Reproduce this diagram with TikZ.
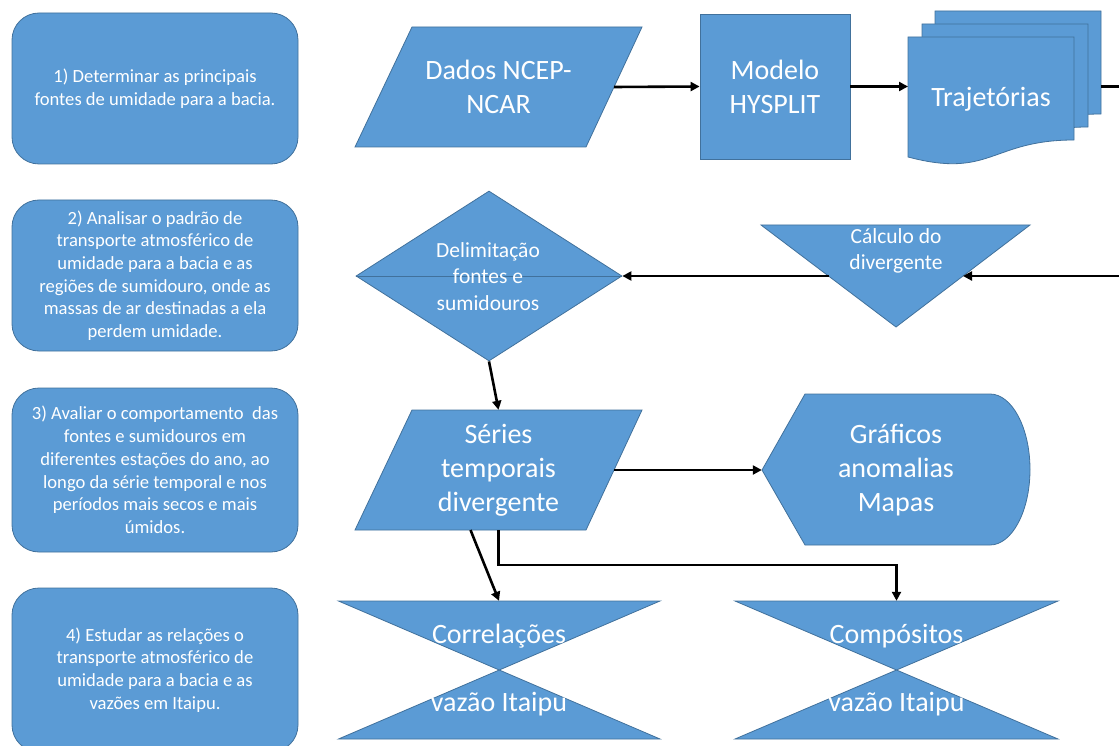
\documentclass[tikz,border=0pt]{standalone}
\usepackage{fontspec}
\setmainfont{Carlito}
\usetikzlibrary{shapes.geometric,arrows.meta}
\definecolor{azul}{HTML}{5B9BD5}
\definecolor{borda}{HTML}{41719C}
\newcommand{\textop}{\fontsize{18.6}{22.7}\selectfont}
\newcommand{\textmeio}{\fontsize{21.5}{26.2}\selectfont}
\newcommand{\textgrande}{\fontsize{28}{34}\selectfont}

\begin{document}
\begin{tikzpicture}[x=1pt, y=-1pt,
  forma/.style={fill=azul, draw=borda, line width=0.8pt},
  texto/.style={text=white, align=center, inner sep=0pt},
  etapa/.style={forma, texto, rectangle, rounded corners=27pt, minimum width=286pt, font=\textop},
  seta/.style={-{Triangle[length=9pt,width=9pt]}, line width=2.6pt},
  linha/.style={line width=2.6pt}]
\useasboundingbox (0,0) rectangle (1119,746);

\node[etapa, minimum height=151pt] (obj1) at (155,88.5) {1) Determinar as principais\\fontes de umidade para a bacia.};
\node[etapa, minimum height=151pt] (obj2) at (155,275.5) {2) Analisar o padrão de\\transporte atmosférico de\\umidade para a bacia e as\\regiões de sumidouro, onde as\\massas de ar destinadas a ela\\perdem umidade.};
\node[etapa, minimum height=164pt] (obj3) at (155,470) {3) Avaliar o comportamento\ \ das\\fontes e sumidouros em\\diferentes estações do ano, ao\\longo da série temporal e nos\\períodos mais secos e mais\\úmidos.};
\node[etapa, minimum height=164pt] (obj4) at (155,670) {4) Estudar as relações o\\transporte atmosférico de\\umidade para a bacia e as\\vazões em Itaipu.};

\filldraw[forma] (412,27) -- (642,27) -- coordinate[pos=.5] (dadosE) (586,147) -- (355,147) -- cycle;
\node[texto, font=\textgrande] (dados) at (498.5,87) {Dados NCEP-\\NCAR};
\node[forma, texto, rectangle, minimum width=150pt, minimum height=145pt, font=\textgrande] (modelo) at (775,86.5) {Modelo\\HYSPLIT};

\foreach \dx/\dy in {27/-26,14/-13,0/0}
  \filldraw[forma, shift={(\dx,\dy)}] (908,37) -- (1074,37) -- (1074,140) .. controls (991,140) and (991,179) .. (908,157) -- cycle;
\node[texto, font=\textgrande] (traj) at (991,99) {Trajetórias};
\coordinate (trajW) at (908,86.5);
\coordinate (trajE) at (1101,86.5);
\coordinate (bordaA) at (1119,86.5);
\coordinate (bordaB) at (1119,276);

\node[forma, diamond, minimum width=266pt, minimum height=170pt, inner sep=0pt] (delim) at (489,276) {};
\draw[borda, line width=1pt] (delim.west) -- (delim.east);
\node[texto, font=\textmeio] (delimtxt) at (488,276.5) {Delimitação\\fontes e\\sumidouros};

\filldraw[forma] (761,225) -- (1030,225) -- coordinate[pos=.5] (calcE) (896,327) -- coordinate[pos=.5] (calcW) cycle;
\node[texto, font=\textmeio] (calc) at (896,251) {Cálculo do\\divergente};

\filldraw[forma] (412,410) -- (642,410) -- coordinate[pos=.5] (seriesE) (586,530) -- coordinate[pos=.5] (seriesS) (355,530) -- cycle;
\node[texto, font=\textgrande, minimum height=120pt] (series) at (498.5,470) {Séries\\temporais\\divergente};

\filldraw[forma] (762,470) -- (805,394) -- (990,394) .. controls (1012,394) and (1030,428) .. (1030,469.5)
  .. controls (1030,511) and (1012,545) .. (990,545) -- (805,545) -- cycle;
\node[texto, font=\textgrande, minimum width=268pt] (graf) at (896,470) {Gráficos\\anomalias\\Mapas};

\filldraw[forma] (338.5,601) -- (660,601) -- (338.5,739) -- (660,739) -- cycle;
\node[texto, font=\textgrande, minimum height=138pt] (corr) at (499,670) {Correlações\\[34pt]vazão Itaipu};
\filldraw[forma] (735,601) -- (1058,601) -- (735,739) -- (1058,739) -- cycle;
\node[texto, font=\textgrande, minimum height=138pt] (comp) at (896.5,670) {Compósitos\\[34pt]vazão Itaipu};

\draw[seta] (dadosE) -- (modelo.west);
\draw[seta] (modelo.east) -- (trajW);
\draw[linha] (trajE) -- (bordaA);
\draw[seta] (bordaB) -- (calcE);
\draw[seta] (calcW) -- (delim.east);
\draw[seta] (delim.south) -- (series.north);
\draw[seta] (seriesE) -- (graf.west);
\draw[seta] (seriesS) -- (corr.north);
\draw[seta] (series.center |- seriesS) -- ++(0,35) -| (comp.north);
\end{tikzpicture}
\end{document}
